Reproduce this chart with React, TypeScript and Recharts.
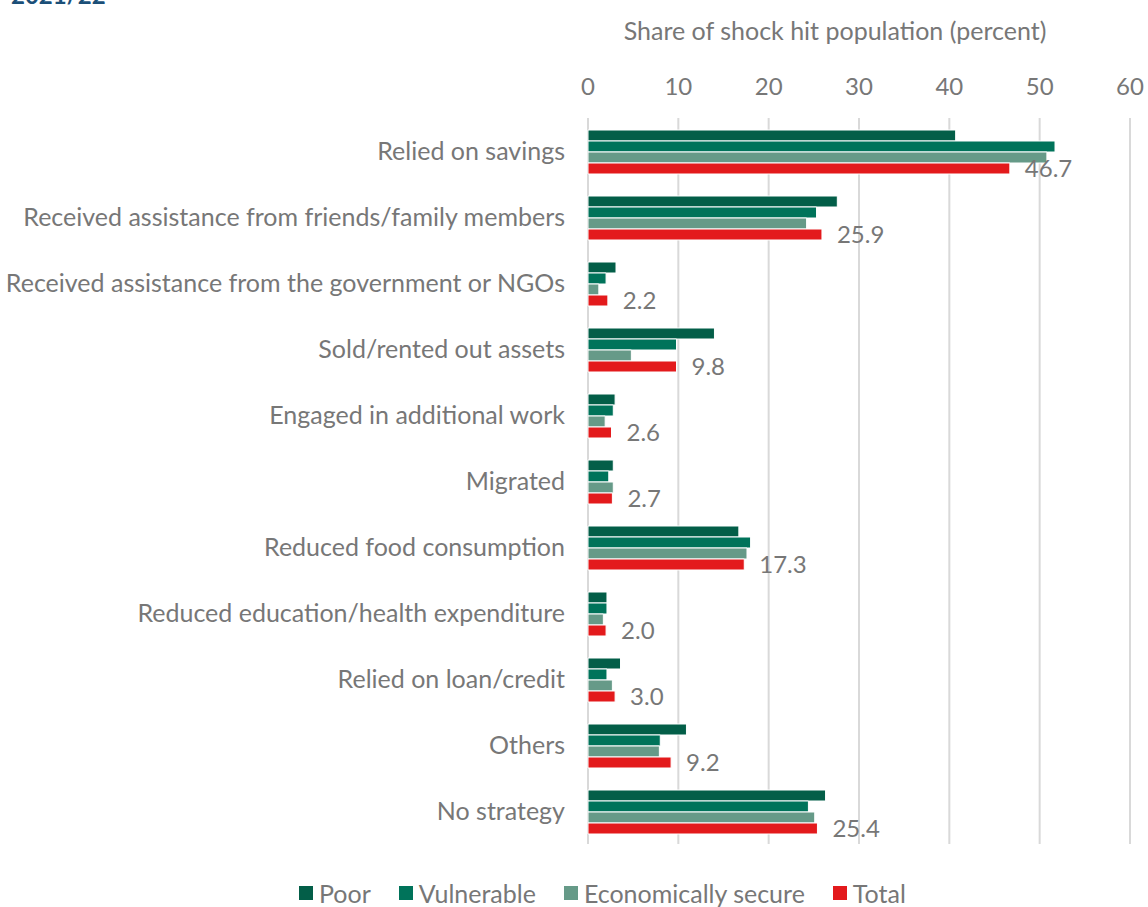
import React from "react";
import {
  BarChart,
  Bar,
  XAxis,
  YAxis,
  CartesianGrid,
  Legend,
  LabelList,
  Customized,
} from "recharts";

const categories = [
  "Relied on savings",
  "Received assistance from friends/family members",
  "Received assistance from the government or NGOs",
  "Sold/rented out assets",
  "Engaged in additional work",
  "Migrated",
  "Reduced food consumption",
  "Reduced education/health expenditure",
  "Relied on loan/credit",
  "Others",
  "No strategy",
];

const poor = [40.7, 27.6, 3.1, 14.0, 3.0, 2.8, 16.7, 2.1, 3.6, 10.9, 26.3];
const vulnerable = [51.7, 25.3, 2.0, 9.8, 2.8, 2.3, 18.0, 2.1, 2.1, 8.0, 24.4];
const econSecure = [50.8, 24.2, 1.2, 4.8, 1.9, 2.8, 17.6, 1.7, 2.7, 7.9, 25.1];
const total = [46.7, 25.9, 2.2, 9.8, 2.6, 2.7, 17.3, 2.0, 3.0, 9.2, 25.4];

const xTicks = [0, 10, 20, 30, 40, 50, 60];

const seriesNames = ["Poor", "Vulnerable", "Economically secure", "Total"];
const seriesColors = ["#035E48", "#00735A", "#669A88", "#E31A1C"];

const data = categories.map((name, i) => ({
  name,
  poor: poor[i],
  vulnerable: vulnerable[i],
  econ: econSecure[i],
  total: total[i],
}));

const FONT = "Lato, 'Open Sans', sans-serif";
const GRAY = "#777777";

const renderLegend = () => (
  <div
    style={{
      display: "flex",
      justifyContent: "flex-start",
      paddingLeft: 299,
      fontFamily: FONT,
      fontSize: 25,
      color: GRAY,
      lineHeight: "28px",
    }}
  >
    {seriesNames.map((n, i) => (
      <div
        key={n}
        style={{ display: "flex", alignItems: "center", marginRight: 28 }}
      >
        <span
          style={{
            display: "inline-block",
            width: 14,
            height: 14,
            background: seriesColors[i],
            marginRight: 6,
          }}
        />
        <span>{n}</span>
      </div>
    ))}
  </div>
);

const Overlay = () => (
  <g>
    <text
      x={11}
      y={4}
      fontFamily={FONT}
      fontWeight="bold"
      fontSize={24}
      fill="#1B4F78"
    >
      2021/22
    </text>
    <text
      x={835}
      y={40}
      textAnchor="middle"
      fontFamily={FONT}
      fontSize={25}
      fill={GRAY}
    >
      Share of shock hit population (percent)
    </text>
  </g>
);

export default function App() {
  return (
    <div style={{ position: "absolute", left: 0, top: 0, width: 1148, height: 907 }}>
      <BarChart
        width={1148}
        height={907}
        data={data}
        layout="vertical"
        margin={{ top: 0, right: 18, bottom: 35, left: 0 }}
        barCategoryGap={12}
        barGap={0}
      >
        <CartesianGrid horizontal={false} stroke="#D9D9D9" strokeWidth={2} />
        <XAxis
          type="number"
          orientation="top"
          domain={[0, 60]}
          ticks={xTicks}
          height={118}
          axisLine={false}
          tickLine={false}
          tickSize={0}
          tickMargin={23}
          tick={{ fill: GRAY, fontSize: 24, fontFamily: FONT }}
          interval={0}
        />
        <YAxis
          type="category"
          dataKey="name"
          width={588}
          axisLine={false}
          tickLine={false}
          tickSize={0}
          tickMargin={23}
          tick={{ fill: GRAY, fontSize: 25, fontFamily: FONT }}
          interval={0}
        />
        <Bar dataKey="poor" name="Poor" fill={seriesColors[0]} stroke="#FFFFFF" strokeWidth={1} isAnimationActive={false} />
        <Bar dataKey="vulnerable" name="Vulnerable" fill={seriesColors[1]} stroke="#FFFFFF" strokeWidth={1} isAnimationActive={false} />
        <Bar dataKey="econ" name="Economically secure" fill={seriesColors[2]} stroke="#FFFFFF" strokeWidth={1} isAnimationActive={false} />
        <Bar dataKey="total" name="Total" fill={seriesColors[3]} stroke="#FFFFFF" strokeWidth={1} isAnimationActive={false}>
          <LabelList
            dataKey="total"
            position="right"
            offset={15}
            formatter={(v: number) => v.toFixed(1)}
            style={{ fill: GRAY, fontSize: 24, fontFamily: FONT }}
          />
        </Bar>
        <Legend verticalAlign="bottom" content={renderLegend} wrapperStyle={{ top: 879, bottom: "auto" }} />
        <Customized component={Overlay} />
      </BarChart>
    </div>
  );
}
